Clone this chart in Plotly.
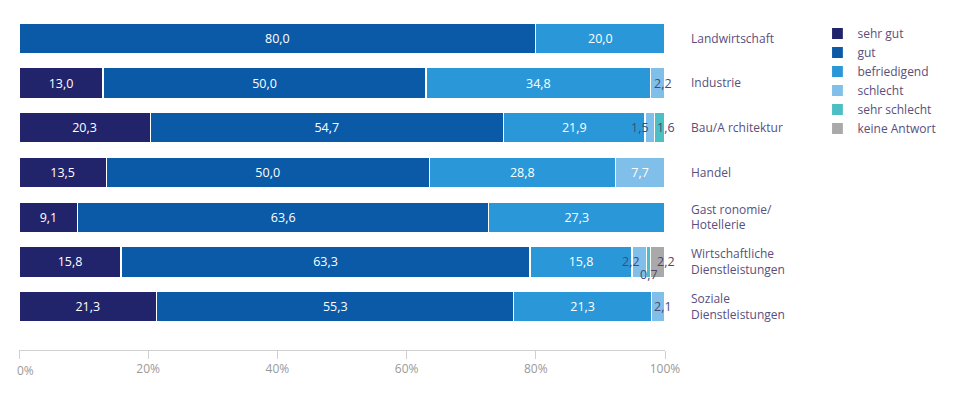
import plotly.graph_objects as go

categories = ["Landwirtschaft", "Industrie", "Bau/A rchitektur", "Handel",
              "Gast ronomie/<br>Hotellerie", "Wirtschaftliche<br>Dienstleistungen",
              "Soziale<br>Dienstleistungen"]
series_names = ["sehr gut", "gut", "befriedigend", "schlecht", "sehr schlecht", "keine Antwort"]
sehr_gut      = [0.0, 13.0, 20.3, 13.5, 9.1, 15.8, 21.3]
gut           = [80.0, 50.0, 54.7, 50.0, 63.6, 63.3, 55.3]
befriedigend  = [20.0, 34.8, 21.9, 28.8, 27.3, 15.8, 21.3]
schlecht      = [0.0, 2.2, 1.5, 7.7, 0.0, 2.2, 2.1]
sehr_schlecht = [0.0, 0.0, 1.6, 0.0, 0.0, 0.7, 0.0]
keine_antwort = [0.0, 0.0, 0.0, 0.0, 0.0, 2.2, 0.0]
tick_values = [0, 20, 40, 60, 80, 100]
tick_labels = ["0%", "20%", "40%", "60%", "80%", "100%"]

series = [sehr_gut, gut, befriedigend, schlecht, sehr_schlecht, keine_antwort]
colors = ["#22246b", "#0b5aa8", "#2a98d8", "#7fbfea", "#4dbec4", "#a9a9a9"]

SMALL = 5.0
fig = go.Figure()
for name, vals, col in zip(series_names, series, colors):
    texts = [("%.1f" % v).replace(".", ",") if v >= SMALL else "" for v in vals]
    fig.add_trace(go.Bar(
        name=name, y=categories, x=vals, orientation="h",
        marker=dict(color=col, line=dict(color="white", width=1.2)),
        text=texts, textposition="inside", insidetextanchor="middle",
        textfont=dict(color="white", size=12.5, family="Open Sans"),
        constraintext="none", hoverinfo="skip",
    ))

# small-value labels placed next to their segments
# style per label: (anchor, xshift, yshift)
label_style = {
    (1, 3): ("left", 1, 0),
    (2, 3): ("right", -4, 0),
    (2, 4): ("left", 0, 0),
    (5, 3): ("right", -4, 0),
    (5, 4): ("center", 0, -13),
    (5, 5): ("left", 4, 0),
    (6, 3): ("left", 1, 0),
}
for i, cat in enumerate(categories):
    cum = 0.0
    for s, vals in enumerate(series):
        v = vals[i]
        start, end = cum, cum + v
        cum = end
        if 0 < v < SMALL:
            anchor, xs, ys = label_style.get((i, s), ("center", 0, 0))
            xpos = start if anchor == "left" else end if anchor == "right" else (start + end) / 2
            fig.add_annotation(x=xpos, y=cat, text=("%.1f" % v).replace(".", ","),
                               showarrow=False, xanchor=anchor, xshift=xs, yshift=ys,
                               font=dict(color="#4a4870", size=12.5, family="Open Sans"))

# first tick label drawn left-aligned at its tick (as in the reference)
shown_ticktext = [""] + tick_labels[1:]
fig.add_annotation(x=tick_values[0], xref="x", y=0, yref="paper", text=tick_labels[0],
                   showarrow=False, xanchor="left", yanchor="middle", xshift=-4, yshift=-20,
                   font=dict(color="#9a9a9a", size=12, family="Open Sans"))

fig.update_layout(
    width=952, height=389,
    barmode="stack", bargap=0.32,
    margin=dict(l=11, r=295, t=7.6, b=47),
    paper_bgcolor="white", plot_bgcolor="white",
    font=dict(family="Open Sans", size=12, color="#584f7e"),
    separators=",.",
    showlegend=True,
    legend=dict(x=1.236, y=0.991, xanchor="left", yanchor="top",
                font=dict(size=12, color="#584f7e", family="Open Sans"),
                traceorder="normal", itemclick=False),
    xaxis=dict(range=[0, 100], tickmode="array", tickvals=tick_values, ticktext=shown_ticktext,
               showgrid=False, zeroline=False, showline=True, linecolor="#d0d0d0", linewidth=1,
               ticks="outside", ticklen=8, tickcolor="#d0d0d0",
               tickfont=dict(color="#9a9a9a", size=12, family="Open Sans"), fixedrange=True),
    yaxis=dict(range=[6.97, -0.5], side="right", showgrid=False, zeroline=False,
               showline=False, ticks="", ticklabelstandoff=25,
               tickfont=dict(color="#584f7e", size=12, family="Open Sans"), fixedrange=True),
)

fig.write_html("out.html")
